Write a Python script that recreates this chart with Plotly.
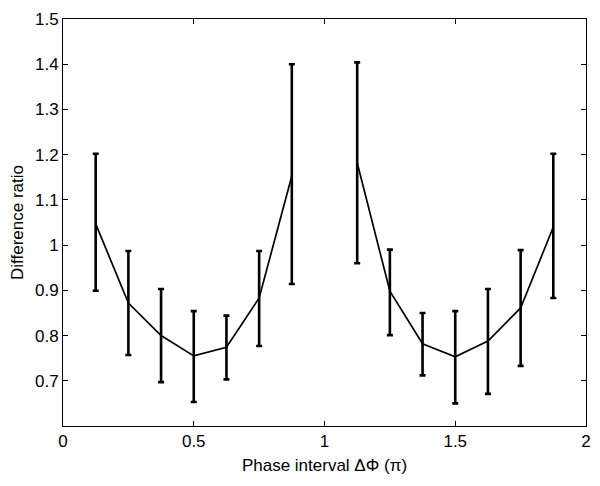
import plotly.graph_objects as go

# ─── Data ───────────────────────────────────────────────────────
x_left = [0.125, 0.25, 0.375, 0.5, 0.625, 0.75, 0.875]
y_left = [1.047, 0.872, 0.80, 0.755, 0.774, 0.883, 1.153]
up_left = [1.202, 0.987, 0.903, 0.854, 0.844, 0.987, 1.40]
lo_left = [0.899, 0.757, 0.697, 0.653, 0.703, 0.777, 0.914]

x_right = [1.125, 1.25, 1.375, 1.5, 1.625, 1.75, 1.875]
y_right = [1.182, 0.898, 0.782, 0.753, 0.788, 0.861, 1.04]
up_right = [1.404, 0.99, 0.85, 0.854, 0.903, 0.989, 1.202]
lo_right = [0.96, 0.801, 0.712, 0.650, 0.671, 0.733, 0.883]

x_ticks = [0, 0.5, 1, 1.5, 2]
x_labels = ["0", "0.5", "1", "1.5", "2"]
y_ticks = [0.7, 0.8, 0.9, 1.0, 1.1, 1.2, 1.3, 1.4, 1.5]
y_labels = ["0.7", "0.8", "0.9", "1", "1.1", "1.2", "1.3", "1.4", "1.5"]

FONT = dict(family="Liberation Sans, Arial, sans-serif", size=17, color="black")


def branch(x, y, up, lo):
    return go.Scatter(
        x=x, y=y,
        mode="lines",
        line=dict(color="black", width=1.7),
        error_y=dict(
            type="data", symmetric=False,
            array=[u - v for u, v in zip(up, y)],
            arrayminus=[v - l for v, l in zip(y, lo)],
            color="black", thickness=2.6, width=3,
        ),
        showlegend=False,
    )


fig = go.Figure()
fig.add_trace(branch(x_left, y_left, up_left, lo_left))
fig.add_trace(branch(x_right, y_right, up_right, lo_right))

axis_style = dict(
    showline=True, linecolor="black", linewidth=1, mirror="ticks",
    ticks="inside", ticklen=5, tickcolor="black", automargin=False,
    ticklabeloverflow="allow",
    showgrid=False, zeroline=False, tickfont=FONT,
)

# page body adds ~8px offset, so the figure is slightly smaller than the window
fig.update_layout(
    template="none",
    width=592, height=478,
    paper_bgcolor="white", plot_bgcolor="white",
    margin=dict(l=55, r=14, t=11, b=60),
    font=FONT,
    xaxis=dict(range=[0, 2], tickvals=x_ticks, ticktext=x_labels,
               title=dict(text="Phase interval ΔΦ (π)", font=FONT, standoff=8),
               **axis_style),
    yaxis=dict(range=[0.6, 1.5], tickvals=y_ticks, ticktext=y_labels,
               title=dict(text="Difference ratio", font=FONT, standoff=20),
               **axis_style),
)

fig.write_html("out.html")
